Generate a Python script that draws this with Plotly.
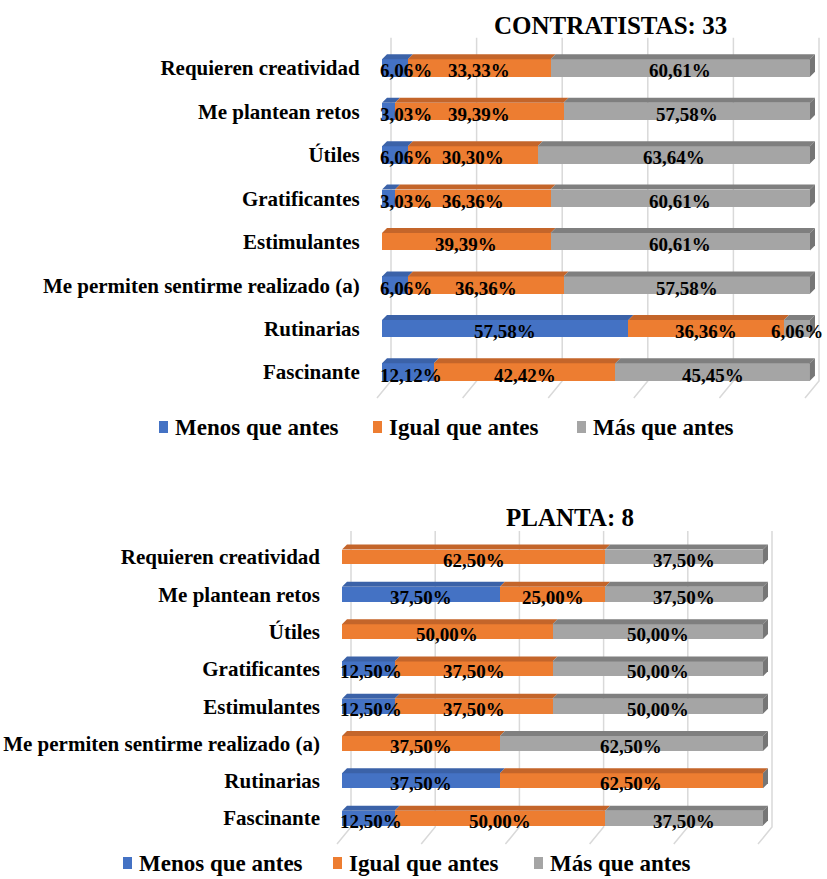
import plotly.graph_objects as go

W, H = 827, 879

categories = ["Requieren creatividad", "Me plantean retos", "Útiles", "Gratificantes",
              "Estimulantes", "Me permiten sentirme realizado (a)", "Rutinarias", "Fascinante"]
series_names = ["Menos que antes", "Igual que antes", "Más que antes"]

contratistas_menos = [6.06, 3.03, 6.06, 3.03, 0.00, 6.06, 57.58, 12.12]
contratistas_igual = [33.33, 39.39, 30.30, 36.36, 39.39, 36.36, 36.36, 42.42]
contratistas_mas = [60.61, 57.58, 63.64, 60.61, 60.61, 57.58, 6.06, 45.45]

planta_menos = [0.00, 37.50, 0.00, 12.50, 12.50, 0.00, 37.50, 12.50]
planta_igual = [62.50, 25.00, 50.00, 37.50, 37.50, 37.50, 62.50, 50.00]
planta_mas = [37.50, 37.50, 50.00, 50.00, 50.00, 62.50, 0.00, 37.50]

titles = ["CONTRATISTAS: 33", "PLANTA: 8"]
grid_ticks = [0, 20, 40, 60, 80, 100]

front_colors = ["#4472C4", "#ED7D31", "#A5A5A5"]
top_colors = ["#3B62A8", "#C4652A", "#7F7F7F"]
side_color = "#767676"
grid_color = "#D9D9D9"
FONT = "Liberation Serif"

# layout geometry (pixels) for each panel
panels = [
    dict(data=[contratistas_menos, contratistas_igual, contratistas_mas],
         x0px=382, pxu=4.28, y0px=68, pyu=43.43, title_xy=(610, 25),
         legend_sq_x=[159, 373, 577], legend_y=427, xa="x", ya="y"),
    dict(data=[planta_menos, planta_igual, planta_mas],
         x0px=342, pxu=4.21, y0px=557, pyu=37.3, title_xy=(570, 517),
         legend_sq_x=[123, 333, 534], legend_y=863, xa="x2", ya="y2"),
]

XR = [-4.5, 103.0]
YR = [7.75, -0.7]
BAR_W = 0.4
DXPX, DYPX = 5.0, 5.0

fig = go.Figure()
shapes = []
annotations = []

for p_i, p in enumerate(panels):
    xa, ya = p["xa"], p["ya"]
    yidx = list(range(len(categories)))
    for s_i, name in enumerate(series_names):
        fig.add_trace(go.Bar(
            x=p["data"][s_i], y=yidx, orientation="h", name=name,
            marker=dict(color=front_colors[s_i], line=dict(width=0)),
            width=BAR_W, xaxis=xa, yaxis=ya, showlegend=False,
            hoverinfo="skip"))
    dx = DXPX / p["pxu"]
    dy = DYPX / p["pyu"]
    # 3D faces and data labels
    for i in range(len(categories)):
        start = 0.0
        yt = i - BAR_W / 2
        yb = i + BAR_W / 2
        for s_i in range(3):
            v = p["data"][s_i][i]
            if v > 0:
                x0, x1 = start, start + v
                shapes.append(dict(
                    type="path", xref=xa, yref=ya, layer="above",
                    path=f"M{x0},{yt} L{x1},{yt} L{x1+dx},{yt-dy} L{x0+dx},{yt-dy} Z",
                    fillcolor=top_colors[s_i], line=dict(width=0)))
                label = f"{v:.2f}%".replace(".", ",")
                lf = dict(family=FONT, size=19, color="black", weight="bold")
                if s_i == 0 and v < 15:
                    annotations.append(dict(
                        x=-1.0, y=i, xref=xa, yref=ya, text=label, showarrow=False,
                        xanchor="left", yanchor="middle", yshift=-3, font=lf))
                else:
                    annotations.append(dict(
                        x=start + v / 2, y=i, xref=xa, yref=ya, text=label, showarrow=False,
                        xanchor="center", yanchor="middle", yshift=-3, font=lf))
            start += v
        shapes.append(dict(
            type="path", xref=xa, yref=ya, layer="above",
            path=f"M{start},{yt} L{start+dx},{yt-dy} L{start+dx},{yb-dy} L{start},{yb} Z",
            fillcolor=side_color, line=dict(width=0)))
    # perspective gridlines
    back = 9.0 / p["pxu"]
    front = -5.0 / p["pxu"]
    y_floor = (p["pyu"] * 7 + 9.0) / p["pyu"]
    y_end = y_floor + 17.0 / p["pyu"]
    for g in grid_ticks:
        shapes.append(dict(
            type="path", xref=xa, yref=ya, layer="below",
            path=f"M{g+back},{YR[1]} L{g+back},{y_floor} L{g+front},{y_end}",
            line=dict(color=grid_color, width=1.5)))
    # domains from pixel geometry
    left_px = p["x0px"] + XR[0] * p["pxu"]
    right_px = p["x0px"] + XR[1] * p["pxu"]
    top_px = p["y0px"] + YR[1] * p["pyu"]
    bot_px = p["y0px"] + YR[0] * p["pyu"]
    xkey = "xaxis" if xa == "x" else "xaxis2"
    ykey = "yaxis" if ya == "y" else "yaxis2"
    fig.update_layout({
        xkey: dict(domain=[left_px / W, right_px / W], range=XR, showgrid=False,
                   zeroline=False, showticklabels=False, showline=False,
                   anchor=ya, fixedrange=True),
        ykey: dict(domain=[1 - bot_px / H, 1 - top_px / H], range=YR,
                   tickvals=list(range(len(categories))), ticktext=categories,
                   showgrid=False, zeroline=False, showline=False, anchor=xa,
                   ticks="", ticklabelstandoff=2,
                   tickfont=dict(family=FONT, size=21, color="black", weight="bold")),
    })
    tx, ty = p["title_xy"]
    annotations.append(dict(
        x=tx / W, y=1 - ty / H, xref="paper", yref="paper", text=titles[p_i],
        showarrow=False, xanchor="center", yanchor="middle",
        font=dict(family=FONT, size=25, color="black", weight="bold")))
    # legend (swatch + text)
    ly = p["legend_y"]
    for s_i, name in enumerate(series_names):
        sx = p["legend_sq_x"][s_i]
        shapes.append(dict(
            type="rect", xref="paper", yref="paper",
            x0=sx / W, x1=(sx + 9) / W, y0=1 - (ly + 6) / H, y1=1 - (ly - 6) / H,
            fillcolor=front_colors[s_i], line=dict(width=0)))
        annotations.append(dict(
            x=(sx + 14) / W, y=1 - ly / H, xref="paper", yref="paper", text=name,
            showarrow=False, xanchor="left", yanchor="middle",
            font=dict(family=FONT, size=23, color="black", weight="bold")))

fig.update_layout(
    width=W, height=H, margin=dict(l=0, r=0, t=0, b=0),
    paper_bgcolor="white", plot_bgcolor="white",
    barmode="stack", bargap=0.5, showlegend=False,
    shapes=shapes, annotations=annotations,
)

fig.write_html("out.html")
